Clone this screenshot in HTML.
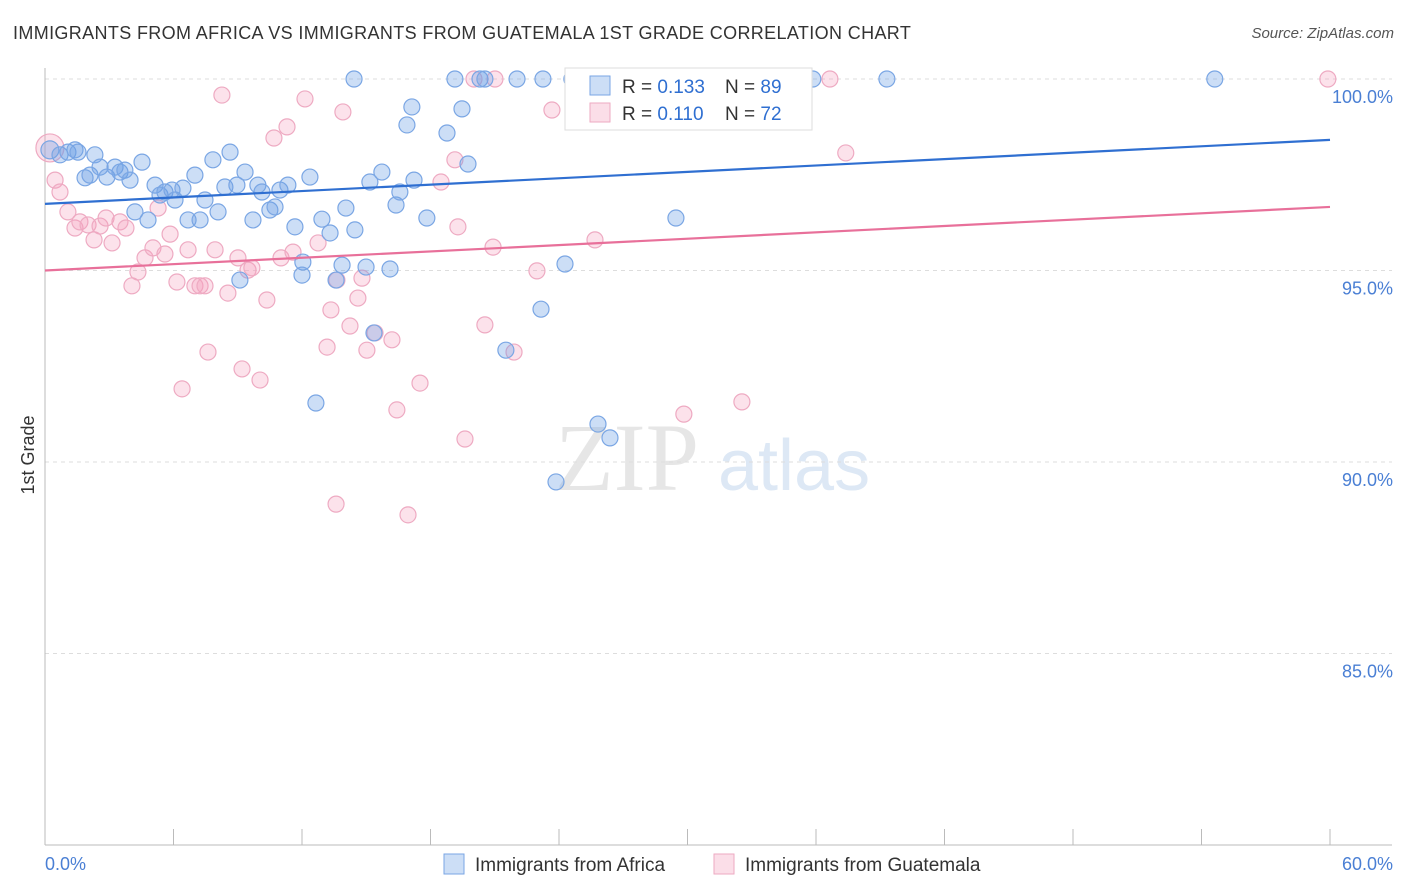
<!DOCTYPE html>
<html><head><meta charset="utf-8">
<style>
body{margin:0;background:#fff;font-family:"Liberation Sans",sans-serif;}
#wrap{position:relative;width:1406px;height:892px;overflow:hidden;}
.t{position:absolute;white-space:nowrap;}
</style></head>
<body>
<div id="wrap">
<div class="t" style="left:13px;top:23px;font-size:18px;letter-spacing:0.36px;color:#333;">IMMIGRANTS FROM AFRICA VS IMMIGRANTS FROM GUATEMALA 1ST GRADE CORRELATION CHART</div>
<div class="t" style="right:12px;top:25px;font-size:15px;color:#555;font-style:italic;">Source: ZipAtlas.com</div>
<svg id="svg" width="1406" height="892" style="position:absolute;left:0;top:0"></svg>
</div>
<script>
const xTicks=[0,6,12,18,24,30,36,42,48,54,60];
const yGrid=[100,95,90,85];
const yTickLabels=["100.0%","95.0%","90.0%","85.0%"];
const africaX=[0.23,0.70,1.07,1.40,2.33,1.54,1.87,2.10,2.57,2.89,3.27,3.50,3.73,3.97,4.53,4.20,4.81,5.14,5.37,5.60,5.93,6.07,6.44,6.68,7.00,7.24,7.47,7.84,8.08,8.40,8.64,8.96,9.10,9.34,9.71,9.94,10.13,10.50,10.74,10.97,11.34,11.67,12.04,12.00,12.37,12.65,12.93,13.31,13.59,13.87,14.05,14.47,14.43,14.99,15.17,15.36,15.73,16.11,16.39,16.57,16.90,17.13,17.23,17.83,18.77,19.14,19.47,19.75,20.31,20.54,21.52,22.04,23.16,23.25,23.86,24.28,24.60,24.79,25.82,26.38,29.46,32.91,33.75,35.85,39.31,54.62];
const africaY=[98.15,98.02,98.09,98.15,98.02,98.09,97.42,97.49,97.70,97.44,97.70,97.57,97.62,97.36,97.83,96.53,96.32,97.23,96.97,97.05,97.10,96.84,97.15,96.32,97.49,96.32,96.84,97.89,96.53,97.18,98.09,97.23,94.75,97.57,96.32,97.23,97.05,96.58,96.66,97.10,97.23,96.14,95.22,94.88,97.44,91.54,96.34,95.98,94.75,95.14,96.63,96.06,100,95.09,97.31,93.37,97.57,95.04,96.71,97.05,98.80,99.27,97.36,96.37,98.59,100,99.22,97.78,100,100,92.92,100,93.99,100,89.48,95.17,100,100,90.99,90.63,96.37,100,100,100,100,100];
const guatX=[0.23,0.47,0.70,1.07,1.40,1.63,2.01,2.29,2.57,2.85,3.13,3.50,3.78,4.06,4.34,4.67,5.04,5.28,5.60,5.84,6.16,6.40,6.68,7.00,7.24,7.47,7.61,7.94,8.26,8.54,9.01,9.20,9.48,9.66,10.04,10.36,10.69,11.02,11.30,11.58,12.14,12.75,13.17,13.35,13.63,13.91,14.24,14.61,14.80,15.03,15.41,16.20,16.43,16.95,17.51,13.59,18.49,19.14,19.28,19.61,20.03,20.54,20.92,21.01,21.90,22.97,23.67,25.68,29.83,32.54,33.47,36.65,37.39,59.90];
const guatY=[98.20,97.36,97.05,96.53,96.11,96.27,96.19,95.80,96.16,96.37,95.72,96.27,96.11,94.60,94.96,95.33,95.59,96.63,95.43,95.95,94.70,91.91,95.54,94.60,94.60,94.60,92.87,95.54,99.58,94.41,95.33,92.43,95.01,95.07,92.14,94.23,98.46,95.33,98.75,95.48,99.48,95.72,93.00,93.97,94.75,99.14,93.55,94.28,94.80,92.92,93.37,93.19,91.36,88.62,92.06,88.90,97.31,97.89,96.14,90.60,100,93.58,95.61,100,92.87,94.99,99.19,95.80,91.25,91.57,100,100,98.07,100];
const africaTrend=[96.74,98.41];
const guatTrend=[95.0,96.66];

const NS='http://www.w3.org/2000/svg';
const svg=document.getElementById('svg');
const X=v=>45+v*(1285/60);
const Y=v=>79+(100-v)*38.3;
function mk(tag,attrs,parent){const e=document.createElementNS(NS,tag);for(const k in attrs)e.setAttribute(k,attrs[k]);(parent||svg).appendChild(e);return e;}

let wm=mk('text',{x:555,y:490,'font-size':96,'font-family':'Liberation Serif',fill:'#e6e6e6'});wm.textContent='ZIP';


let wm2=mk('text',{x:718,y:490,'font-size':72,'font-family':'Liberation Sans',fill:'#dde8f5'});wm2.textContent='atlas';



yGrid.forEach((v,i)=>{
 const l=mk('line',{x1:45,x2:1392,y1:Y(v),y2:Y(v),stroke:'#ddd','stroke-dasharray':'4,4'});
 
 
 const t=mk('text',{x:1393,y:Y(v)+24,'text-anchor':'end','font-size':18,fill:'#4a7fd4'});t.textContent=yTickLabels[i];
 
 
});
let ax=mk('line',{x1:45,x2:45,y1:68,y2:845,stroke:'#bbb'});


let axx=mk('line',{x1:45,x2:1392,y1:845,y2:845,stroke:'#bbb'});


xTicks.forEach(v=>{const l=mk('line',{x1:X(v),x2:X(v),y1:829,y2:845,stroke:'#bbb'});
 
 });
let xl0=mk('text',{x:45,y:870,'font-size':18,fill:'#4a7fd4'});xl0.textContent='0.0%';


let xl1=mk('text',{x:1393,y:870,'font-size':18,fill:'#4a7fd4','text-anchor':'end'});xl1.textContent='60.0%';


let yt=mk('text',{x:34,y:455,'font-size':18,fill:'#333','text-anchor':'middle',transform:'rotate(-90 34 455)'});yt.textContent='1st Grade';



function pts(xs,ys,fill,stroke,name){
 xs.forEach((x,i)=>{
  const r=(i===0&&name==='point-guatemala')?14:(i===0?9:8);
  const c=mk('circle',{cx:X(x),cy:Y(ys[i]),r:r,fill:fill,stroke:stroke,'stroke-width':1.2});
  
  
 });
}
pts(guatX,guatY,'rgba(244,160,190,0.3)','#eeaac2','point-guatemala');
pts(africaX,africaY,'rgba(110,160,230,0.35)','#7aa6e4','point-africa');
let tl1=mk('line',{x1:X(0),x2:X(60),y1:Y(africaTrend[0]),y2:Y(africaTrend[1]),stroke:'#2f6fd1','stroke-width':2.2});


let tl2=mk('line',{x1:X(0),x2:X(60),y1:Y(guatTrend[0]),y2:Y(guatTrend[1]),stroke:'#e8709a','stroke-width':2.2});



const lg=mk('g',{});


mk('rect',{x:565,y:68,width:247,height:62,fill:'#fff',stroke:'#ddd'},lg);
mk('rect',{x:590,y:76,width:20,height:19,fill:'rgba(110,160,230,0.35)',stroke:'#7aa6e4'},lg);
mk('rect',{x:590,y:103,width:20,height:19,fill:'rgba(244,160,190,0.35)',stroke:'#eeaac2'},lg);
[[93,'0.133','89'],[120,'0.110','72']].forEach(r=>{
 const t=mk('text',{x:622,y:r[0],'font-size':19,fill:'#333'},lg);
 t.innerHTML='R = <tspan fill="#2f6fd1">'+r[1]+'</tspan><tspan x="725">N = </tspan><tspan fill="#2f6fd1">'+r[2]+'</tspan>';
 
 
});
const bl=mk('g',{});


mk('rect',{x:444,y:854,width:20,height:20,fill:'rgba(110,160,230,0.35)',stroke:'#7aa6e4'},bl);
let b1=mk('text',{x:475,y:871,'font-size':19,fill:'#333'},bl);b1.textContent='Immigrants from Africa';


mk('rect',{x:714,y:854,width:20,height:20,fill:'rgba(244,160,190,0.35)',stroke:'#eeaac2'},bl);
let b2=mk('text',{x:745,y:871,'font-size':19,fill:'#333'},bl);b2.textContent='Immigrants from Guatemala';


</script>
</body></html>
